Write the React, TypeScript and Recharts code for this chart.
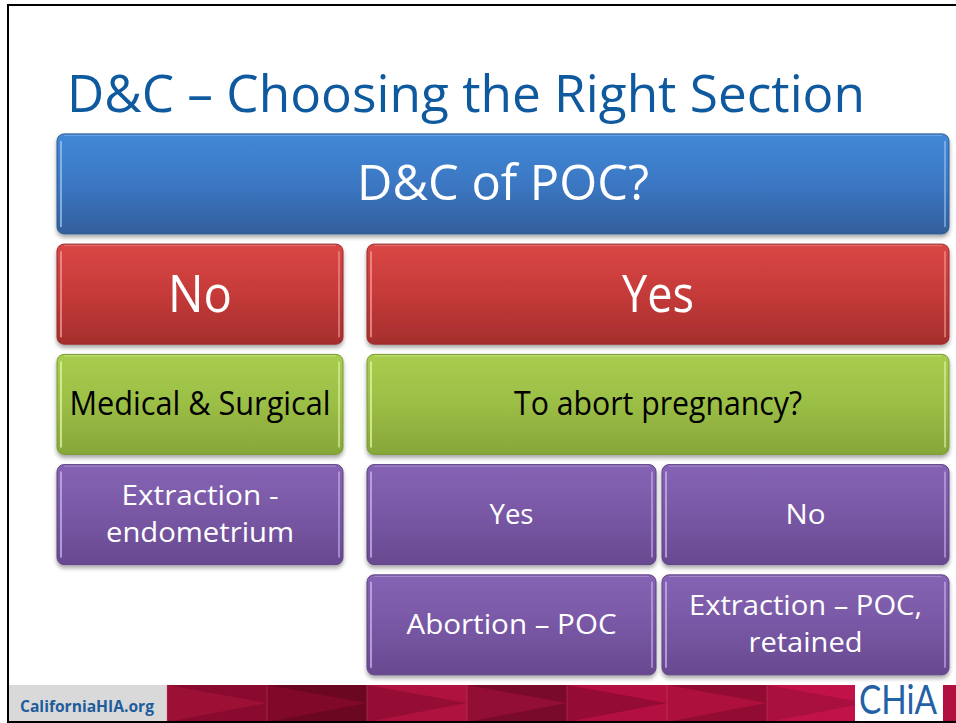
import React from 'react';
import { BarChart, Bar, XAxis, YAxis } from 'recharts';

// one category per row of the decision grid, top to bottom
const rows = ['question', 'answer', 'purpose', 'abort', 'section'];

// column spans of each row, stacked left to right (slide units, full width 892)
const box1 = [892, 286, 286, 286, 0];
const gap1 = [0, 24, 24, 24, 310];
const box2 = [0, 582, 582, 289, 289];
const gap2 = [0, 0, 0, 6, 6];
const box3 = [0, 0, 0, 287, 287];

const text1 = ['D&C of POC?', 'No', 'Medical & Surgical', 'Extraction -\nendometrium', ''];
const text2 = ['', 'Yes', 'To abort pregnancy?', 'Yes', 'Abortion – POC'];
const text3 = ['', '', '', 'No', 'Extraction – POC,\nretained'];

const data = rows.map((row, i) => ({
  row,
  box1: box1[i],
  gap1: gap1[i],
  box2: box2[i],
  gap2: gap2[i],
  box3: box3[i],
  text1: text1[i],
  text2: text2[i],
  text3: text3[i],
}));

const FONT = '"Open Sans", "Noto Sans", sans-serif';

const rowStyle = [
  { grad: 'g-blue', stroke: '#2f5a92', light: '#9cc2ee', ink: '#ffffff', size: 49 },
  { grad: 'g-red', stroke: '#9a2a29', light: '#f09a98', ink: '#ffffff', size: 52 },
  { grad: 'g-green', stroke: '#7c9a36', light: '#e2f5a8', ink: '#000000', size: 32 },
  { grad: 'g-purple', stroke: '#5e4383', light: '#c9b2ec', ink: '#ffffff', size: 28 },
  { grad: 'g-purple', stroke: '#5e4383', light: '#c9b2ec', ink: '#ffffff', size: 28 },
];

// measured widths of the Calibri text in the slide, so the fallback font fits the same room
const textWidths: Record<string, number> = {
  '0|D&C of POC?': 292,
  '1|No': 64,
  '1|Yes': 72,
  '2|Medical & Surgical': 261,
  '2|To abort pregnancy?': 288,
  '3|Extraction -': 157,
  '3|endometrium': 188,
  '3|Yes': 44,
  '3|No': 40,
  '4|Abortion – POC': 210,
  '4|Extraction – POC,': 233,
  '4|retained': 114,
};

const makeBox = (textKey: string) => (props: any) => {
  const { x, y, width, height, index, payload } = props;
  if (!width || width <= 0 || !height) return <g />;
  const st = rowStyle[index];
  const label: string = payload[textKey] || '';
  const lines = label ? label.split('\n') : [];
  const lh = st.size * 1.32;
  const cap = st.size * 0.714;
  const cy = y + height / 2 - 1;
  const first = cy - ((lines.length - 1) * lh) / 2 + cap / 2;
  return (
    <g>
      <rect
        x={x}
        y={y}
        width={width}
        height={height}
        rx={7}
        ry={7}
        fill={`url(#${st.grad})`}
        stroke={st.stroke}
        strokeWidth={1}
        filter="url(#boxShadow)"
      />
      <line x1={x + 4} x2={x + 4} y1={y + 7} y2={y + height - 7} stroke={st.light} strokeWidth={2} opacity={0.75} />
      <line x1={x + width - 4} x2={x + width - 4} y1={y + 7} y2={y + height - 7} stroke={st.light} strokeWidth={2} opacity={0.6} />
      <line x1={x + 7} x2={x + width - 7} y1={y + 1.5} y2={y + 1.5} stroke={st.light} strokeWidth={1} opacity={0.5} />
      {lines.map((ln, k) => {
        const w = textWidths[`${index}|${ln}`];
        return (
          <text
            key={k}
            x={x + width / 2}
            y={first + k * lh}
            textAnchor="middle"
            fontFamily={FONT}
            fontSize={st.size}
            fill={st.ink}
            textLength={w}
            lengthAdjust="spacingAndGlyphs"
          >
            {ln}
          </text>
        );
      })}
    </g>
  );
};

const gapShape = () => <g />;

// banner panels along the footer
const bannerPanels = [
  { c: '#8a0a2f', t: '#a01238' },
  { c: '#6c0722', t: '#86092c' },
  { c: '#b0123f', t: '#8e0c33' },
  { c: '#7a0a29', t: '#9a0f37' },
  { c: '#b31041', t: '#8c0a30' },
  { c: '#920b33', t: '#b4123f' },
  { c: '#c2124a', t: '#a30f3c' },
];

const Defs = () => (
  <svg width={0} height={0} style={{ position: 'absolute' }}>
    <defs>
      <linearGradient id="g-blue" x1="0" y1="0" x2="0" y2="1">
        <stop offset="0" stopColor="#4189d6" />
        <stop offset="0.5" stopColor="#3b77c3" />
        <stop offset="1" stopColor="#335f9c" />
      </linearGradient>
      <linearGradient id="g-red" x1="0" y1="0" x2="0" y2="1">
        <stop offset="0" stopColor="#da4745" />
        <stop offset="0.5" stopColor="#c53a39" />
        <stop offset="1" stopColor="#a52e2d" />
      </linearGradient>
      <linearGradient id="g-green" x1="0" y1="0" x2="0" y2="1">
        <stop offset="0" stopColor="#a8cd4e" />
        <stop offset="0.5" stopColor="#9bbe45" />
        <stop offset="1" stopColor="#86a63a" />
      </linearGradient>
      <linearGradient id="g-purple" x1="0" y1="0" x2="0" y2="1">
        <stop offset="0" stopColor="#8663b4" />
        <stop offset="0.5" stopColor="#7858a5" />
        <stop offset="1" stopColor="#684990" />
      </linearGradient>
      <filter id="boxShadow" x="-5%" y="-10%" width="110%" height="125%">
        <feDropShadow dx="0" dy="3" stdDeviation="2" floodColor="#000" floodOpacity="0.35" />
      </filter>
    </defs>
  </svg>
);

const Slide = () => (
  <svg width={956} height={723} style={{ position: 'absolute', left: 0, top: 0 }}>
    <text x={67} y={112} fontFamily={FONT} fontSize={52} fill="#0f5a9f" textLength={798} lengthAdjust="spacingAndGlyphs">
      D&amp;C – Choosing the Right Section
    </text>
    <rect x={8} y={685} width={159} height={37} fill="#d9d9d9" />
    <text x={20} y={712} fontFamily={FONT} fontWeight={700} fontSize={16} fill="#1f5c9c" textLength={134} lengthAdjust="spacingAndGlyphs">
      CaliforniaHIA.org
    </text>
    <rect x={167} y={685} width={789} height={37} fill="#8a0a2f" />
    {bannerPanels.map((p, i) => {
      const x0 = 167 + i * 100;
      return (
        <g key={i}>
          <rect x={x0} y={685} width={100} height={37} fill={p.c} />
          <polygon points={`${x0},685 ${x0 + 100},703 ${x0},722`} fill={p.t} opacity={0.8} />
          <line x1={x0} x2={x0} y1={685} y2={722} stroke="#d8577a" strokeWidth={1} opacity={0.35} />
        </g>
      );
    })}
    <rect x={943} y={685} width={13} height={37} fill="#b01040" />
    <rect x={855} y={683} width={88} height={39} fill="#ffffff" />
    <text x={859} y={714} fontFamily="Lato, sans-serif" fontSize={40} fill="#2361a6" textLength={78} lengthAdjust="spacingAndGlyphs">
      CHiA
    </text>
    <line x1={8} x2={956} y1={5} y2={5} stroke="#000" strokeWidth={2} />
    <line x1={8} x2={8} y1={4} y2={723} stroke="#000" strokeWidth={2} />
    <line x1={8} x2={956} y1={722} y2={722} stroke="#000" strokeWidth={2} />
  </svg>
);

export default function App() {
  return (
    <div style={{ position: 'absolute', left: 0, top: 0, width: 956, height: 723, background: '#ffffff', overflow: 'hidden' }}>
      <Defs />
      <Slide />
      <div style={{ position: 'absolute', left: 0, top: 0 }}>
        <BarChart
          width={956}
          height={723}
          data={data}
          layout="vertical"
          margin={{ top: 128.9, right: 7, bottom: 42.9, left: 57 }}
          barSize={100}
        >
          <XAxis type="number" domain={[0, 892]} hide />
          <YAxis type="category" dataKey="row" hide />
          <Bar dataKey="box1" stackId="grid" isAnimationActive={false} shape={makeBox('text1')} />
          <Bar dataKey="gap1" stackId="grid" isAnimationActive={false} shape={gapShape} />
          <Bar dataKey="box2" stackId="grid" isAnimationActive={false} shape={makeBox('text2')} />
          <Bar dataKey="gap2" stackId="grid" isAnimationActive={false} shape={gapShape} />
          <Bar dataKey="box3" stackId="grid" isAnimationActive={false} shape={makeBox('text3')} />
        </BarChart>
      </div>
    </div>
  );
}
